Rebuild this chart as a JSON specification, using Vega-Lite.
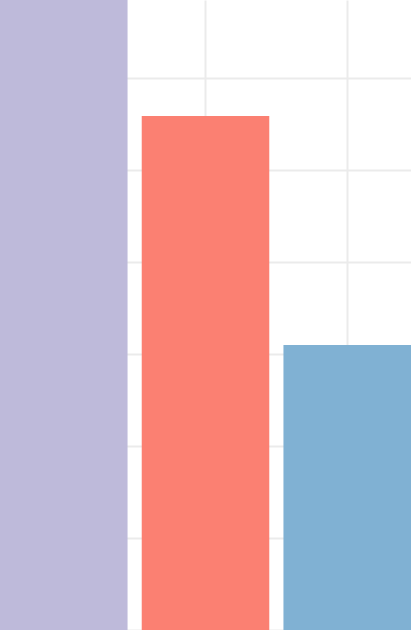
{
  "$schema": "https://vega.github.io/schema/vega-lite/v6.json",
  "width": 411,
  "height": 630,
  "padding": 0,
  "autosize": {"type": "fit", "contains": "padding"},
  "config": {"view": {"stroke": null}},
  "data": {"values": [
    {"category": "A", "value": 68.5},
    {"category": "B", "value": 55.9},
    {"category": "C", "value": 31.0}
  ]},
  "mark": {"type": "bar"},
  "encoding": {
    "x": {
      "field": "category", "type": "nominal",
      "scale": {"paddingInner": 0.1, "paddingOuter": 0},
      "axis": {"labels": false, "ticks": false, "domain": false, "title": null, "grid": true, "bandPosition": 0.5, "gridColor": "#ebebeb", "gridWidth": 2}
    },
    "y": {
      "field": "value", "type": "quantitative",
      "scale": {"domain": [0, 68.5], "nice": false},
      "axis": {"labels": false, "ticks": false, "domain": false, "title": null, "grid": true, "values": [0, 10, 20, 30, 40, 50, 60], "gridColor": "#ebebeb", "gridWidth": 2}
    },
    "color": {
      "field": "category", "type": "nominal",
      "scale": {"range": ["#bebada", "#fb8072", "#80b1d3"]},
      "legend": null
    }
  }
}
